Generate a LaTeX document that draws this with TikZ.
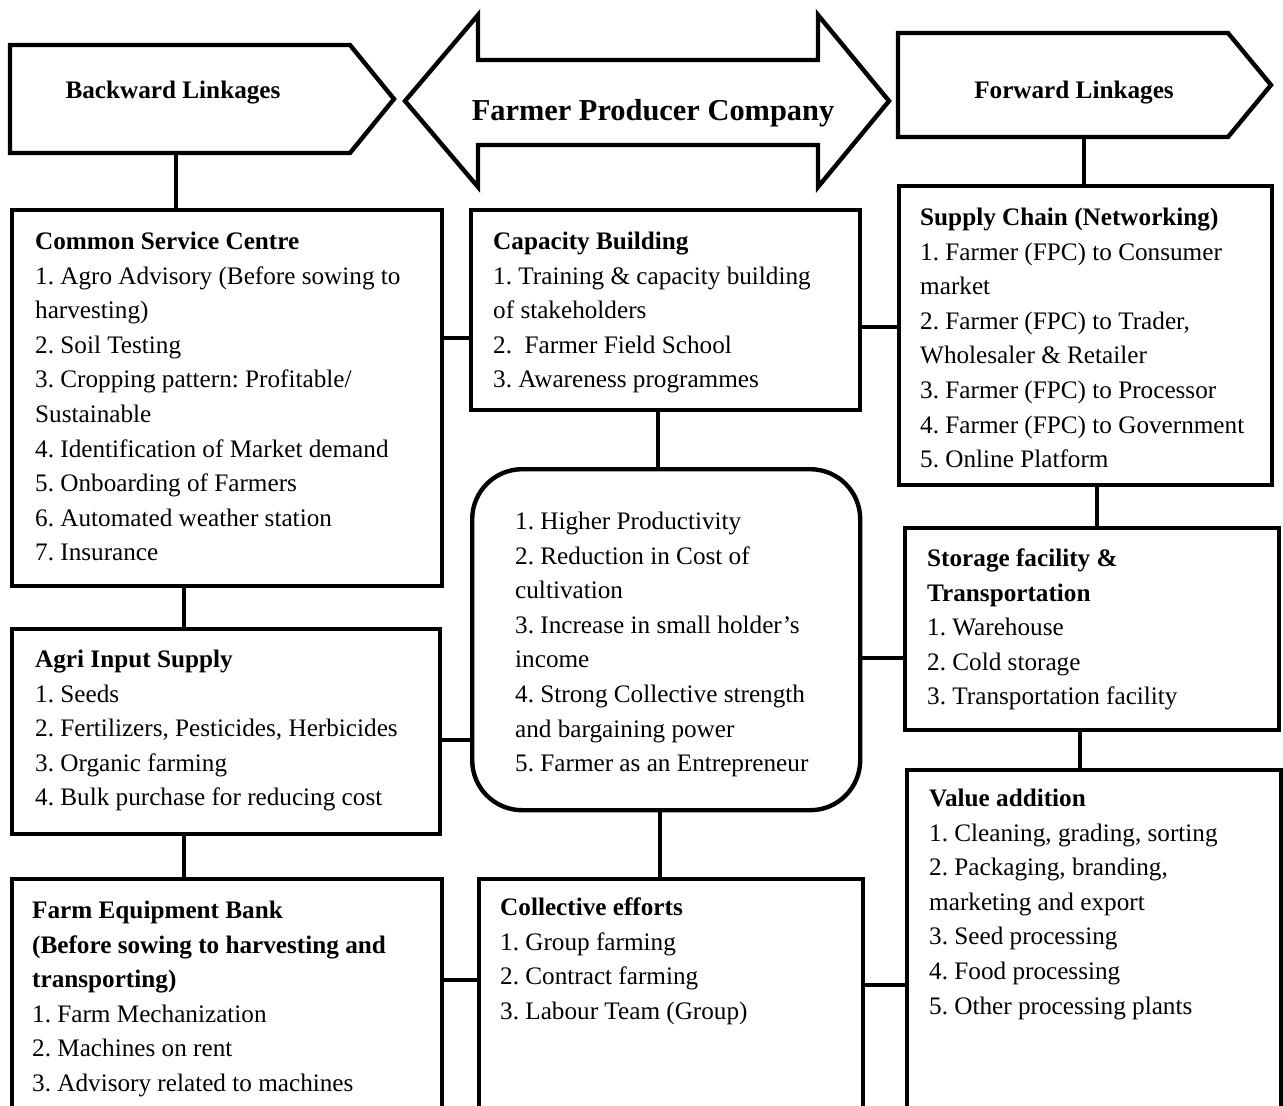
\documentclass[tikz,border=0pt]{standalone}
\usepackage{fontspec}
\setmainfont{Liberation Serif}
\frenchspacing
\begin{document}
\begin{tikzpicture}
  [x=0.5pt,y=-0.5pt,line width=2.2pt,
   every node/.style={inner sep=0pt, font=\fontsize{12.6}{17.3}\selectfont},
   box/.style 2 args={draw, anchor=north west, minimum width=#1*0.5pt, minimum height=#2*0.5pt},
   frame/.style 2 args={anchor=north west, outer sep=0pt, minimum width=#1*0.5pt, minimum height=#2*0.5pt},
   txt/.style={anchor=north west, align=left}]
  \clip (0,0) rectangle (1283,1106);
  \fill[white] (0,0) rectangle (1283,1106);

  % header shapes
  \node[frame={340}{108}] (back) at (10,45) {};
  \draw (back.north west) -- (back.north east) -- ++(44,54) -- (back.south east) -- (back.south west) -- cycle;
  \node[font=\fontsize{12.6}{17.3}\selectfont\bfseries] (backtxt) at (173,93) {Backward Linkages};

  \draw (405,101) -- (478,15) -- (478,60) -- (818,60) -- (818,15) -- (889,101)
     -- (818,187) -- (818,145) -- (478,145) -- (478,187) -- cycle;
  \node[font=\fontsize{15.2}{18}\selectfont\bfseries] (fpc) at (653,113) {Farmer Producer Company};

  \node[frame={330}{104}] (fwd) at (898,33) {};
  \draw (fwd.north west) -- (fwd.north east) -- ++(43,52) -- (fwd.south east) -- (fwd.south west) -- cycle;
  \node[font=\fontsize{12.6}{17.3}\selectfont\bfseries] (fwdtxt) at (1074,93) {Forward Linkages};

  % boxes
  \node[box={430}{376}] (csc) at (10,208) {};
  \node[box={428}{205}] (agri) at (10,627) {};
  \node[box={430}{260}] (farm) at (10,877) {};
  \node[box={389}{200}] (cap) at (469,208) {};
  \node[box={388}{341}, rounded corners=25pt] (gain) at (470,467) {};
  \node[box={384}{260}] (coll) at (477,877) {};
  \node[box={373}{299}] (supply) at (897,184) {};
  \node[box={374}{202}] (store) at (903,526) {};
  \node[box={374}{360}] (value) at (905,768) {};

  % texts
  \node[txt] (csctxt) at (33,223) {\strut\textbf{Common Service Centre}\\
    1. Agro Advisory (Before sowing to\\ harvesting)\\ 2. Soil Testing\\
    3. Cropping pattern: Profitable/\\ Sustainable\\ 4. Identification of Market demand\\
    5. Onboarding of Farmers\\ 6. Automated weather station\\ 7. Insurance};
  \node[txt] (agritxt) at (33,641) {\strut\textbf{Agri Input Supply}\\ 1. Seeds\\
    2. Fertilizers, Pesticides, Herbicides\\ 3. Organic farming\\
    4. Bulk purchase for reducing cost};
  \node[txt] (farmtxt) at (30,892) {\strut\textbf{Farm Equipment Bank}\\
    \textbf{(Before sowing to harvesting and}\\ \textbf{transporting)}\\
    1. Farm Mechanization\\ 2. Machines on rent\\ 3. Advisory related to machines};
  \node[txt] (captxt) at (491,223) {\strut\textbf{Capacity Building}\\
    1. Training \& capacity building\\ of stakeholders\\
    2.\ \ Farmer Field School\\ 3. Awareness programmes};
  \node[txt] (gaintxt) at (513,503) {\strut 1. Higher Productivity\\
    2. Reduction in Cost of\\ cultivation\\ 3. Increase in small holder’s\\ income\\
    4. Strong Collective strength\\ and bargaining power\\ 5. Farmer as an Entrepreneur};
  \node[txt] (colltxt) at (498,889) {\strut\textbf{Collective efforts}\\
    1. Group farming\\ 2. Contract farming\\ 3. Labour Team (Group)};
  \node[txt] (suptxt) at (918,199) {\strut\textbf{Supply Chain (Networking)}\\
    1. Farmer (FPC) to Consumer\\ market\\ 2. Farmer (FPC) to Trader,\\
    Wholesaler \& Retailer\\ 3. Farmer (FPC) to Processor\\
    4. Farmer (FPC) to Government\\ 5. Online Platform};
  \node[txt] (stotxt) at (925,540) {\strut\textbf{Storage facility \&}\\
    \textbf{Transportation}\\ 1. Warehouse\\ 2. Cold storage\\ 3. Transportation facility};
  \node[txt] (valtxt) at (927,780) {\strut\textbf{Value addition}\\
    1. Cleaning, grading, sorting\\ 2. Packaging, branding,\\ marketing and export\\
    3. Seed processing\\ 4. Food processing\\ 5. Other processing plants};

  % connectors
  \foreach \from/\to/\x in {back/csc/176, csc/agri/184, agri/farm/184, fwd/supply/1084,
      supply/store/1097, store/value/1080, cap/gain/658, gain/coll/660}
    \draw (\x,0 |- \from.south) -- (\x,0 |- \to.north);
  \foreach \from/\to/\y in {csc/cap/338, cap/supply/327, agri/gain/740, gain/store/658,
      farm/coll/980, coll/value/985}
    \draw (\from.east |- 0,\y) -- (\to.west |- 0,\y);
\end{tikzpicture}
\end{document}
